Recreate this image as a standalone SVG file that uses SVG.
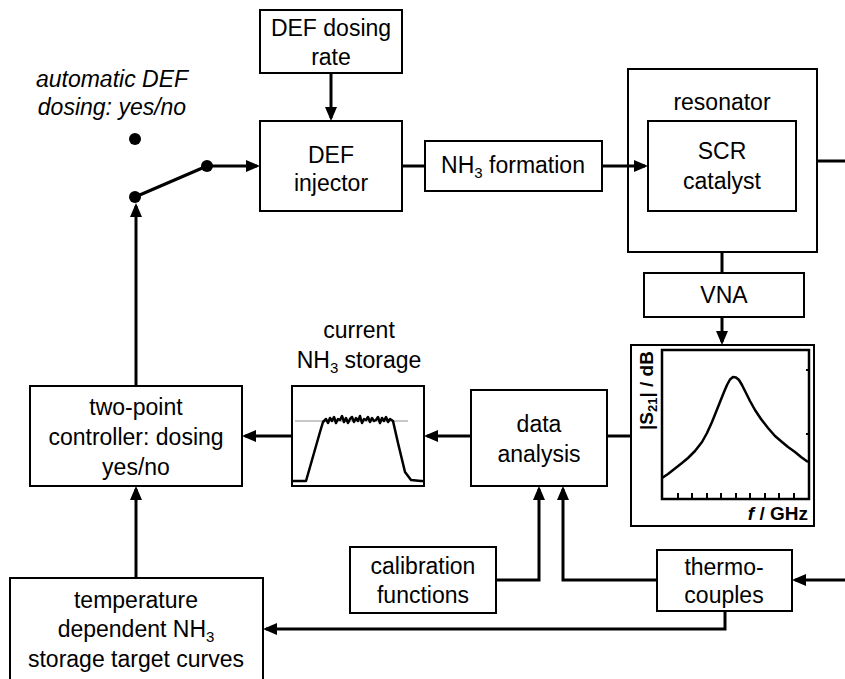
<svg xmlns="http://www.w3.org/2000/svg" width="845" height="679" viewBox="0 0 845 679">
<defs>
<marker id="ah" markerUnits="userSpaceOnUse" markerWidth="14" markerHeight="14" viewBox="0 0 14 14" refX="11" refY="7" orient="auto">
<path d="M0,1 L14,7 L0,13 Z" fill="#000"/>
</marker>
<style>
.box{fill:#fff;stroke:#000;stroke-width:2}
.t{font-family:"Liberation Sans",Arial,sans-serif;font-size:23px;fill:#000;text-anchor:middle}
.it{font-style:italic}
.c{fill:none;stroke:#000;stroke-width:3}
.a{marker-end:url(#ah)}
.sub{font-size:15px}
.ax{font-family:"Liberation Sans",Arial,sans-serif;font-size:19px;font-weight:bold;fill:#000}
</style>
</defs>
<rect width="845" height="679" fill="#fff"/>

<g id="switch">
<text class="t it" x="112" y="87">automatic DEF</text>
<text class="t it" x="112" y="115">dosing: yes/no</text>
<circle cx="135" cy="139" r="6" fill="#000"/>
<circle cx="207" cy="166" r="6" fill="#000"/>
<circle cx="135" cy="197" r="6" fill="#000"/>
</g>

<g id="def-dosing-rate">
<rect class="box" x="260" y="10" width="142" height="63"/>
<text class="t" x="331" y="36">DEF dosing</text>
<text class="t" x="331" y="65">rate</text>
</g>

<g id="def-injector">
<rect class="box" x="260" y="121" width="142" height="90"/>
<text class="t" x="331" y="163">DEF</text>
<text class="t" x="331" y="191">injector</text>
</g>

<g id="nh3-formation">
<rect class="box" x="425" y="141" width="177" height="50"/>
<text class="t" x="513" y="173">NH<tspan class="sub" dy="5">3</tspan><tspan dy="-5"> formation</tspan></text>
</g>

<g id="resonator">
<rect class="box" x="628" y="69" width="189" height="183"/>
<text class="t" x="722" y="110">resonator</text>
</g>

<g id="scr-catalyst">
<rect class="box" x="648" y="121" width="148" height="90"/>
<text class="t" x="722" y="159">SCR</text>
<text class="t" x="722" y="189">catalyst</text>
</g>

<g id="vna">
<rect class="box" x="644" y="273" width="160" height="44"/>
<text class="t" x="724" y="303">VNA</text>
</g>

<g id="s21-plot">
<rect class="box" x="631" y="345" width="183" height="181"/>
<rect x="662" y="350" width="147" height="149" fill="none" stroke="#000" stroke-width="2.5"/>
<g stroke="#000" stroke-width="2">
<line x1="678" y1="499" x2="678" y2="493"/>
<line x1="692" y1="499" x2="692" y2="493"/>
<line x1="707" y1="499" x2="707" y2="493"/>
<line x1="721" y1="499" x2="721" y2="493"/>
<line x1="736" y1="499" x2="736" y2="493"/>
<line x1="750" y1="499" x2="750" y2="493"/>
<line x1="765" y1="499" x2="765" y2="493"/>
<line x1="779" y1="499" x2="779" y2="493"/>
<line x1="794" y1="499" x2="794" y2="493"/>
<line x1="809" y1="370" x2="806" y2="370"/>
<line x1="809" y1="434" x2="806" y2="434"/>
</g>
<polyline fill="none" stroke="#000" stroke-width="2.5" stroke-linejoin="round" points="662,478 668,474 675,468.5 682,463 688,458 695,451 702,442 707,433 712,422 716,412 720,402 724,392 727,385 730,379.5 733,377 736,377.5 739,380 742,385 745,391 750,401 755,410 761,419 768,428 775,436 782,442 788,447 795,452 801,457 808,462"/>
<text class="ax" transform="translate(653,430) rotate(-90)" font-size="20">|S<tspan font-size="13" dy="4">21</tspan><tspan dy="-4">| / dB</tspan></text>
<text class="ax" x="808" y="520" text-anchor="end" font-size="20"><tspan font-style="italic">f</tspan> / GHz</text>
</g>

<g id="data-analysis">
<rect class="box" x="471" y="390" width="136" height="96"/>
<text class="t" x="539" y="432">data</text>
<text class="t" x="539" y="462">analysis</text>
</g>

<g id="current-storage">
<text class="t" x="359" y="338">current</text>
<text class="t" x="359" y="368">NH<tspan class="sub" dy="5">3</tspan><tspan dy="-5"> storage</tspan></text>
<rect class="box" x="292" y="386" width="132" height="100"/>
<line x1="295" y1="421" x2="408" y2="421" stroke="#c8c8c8" stroke-width="2"/>
<polyline fill="none" stroke="#000" stroke-width="2.5" stroke-linejoin="round" points="293,481 306,481 320,432 323,422 326,419 328,423 330,418 332,421 334,417 336,423 338,419 340,420 342,416 344,422 346,418 348,423 350,419 352,417 354,422 356,418 358,421 360,416 362,423 364,419 366,420 368,417 370,422 372,418 374,421 376,420 378,417 380,423 382,418 384,421 386,417 388,422 390,419 393,421 398,443 405,472 411,480 421,481 424,481"/>
</g>

<g id="two-point-controller">
<rect class="box" x="30" y="386" width="212" height="100"/>
<text class="t" x="136" y="415">two-point</text>
<text class="t" x="136" y="445">controller: dosing</text>
<text class="t" x="136" y="475">yes/no</text>
</g>

<g id="calibration-functions">
<rect class="box" x="350" y="547" width="146" height="66"/>
<text class="t" x="423" y="574">calibration</text>
<text class="t" x="423" y="603">functions</text>
</g>

<g id="thermocouples">
<rect class="box" x="657" y="550" width="135" height="61"/>
<text class="t" x="724" y="575">thermo-</text>
<text class="t" x="724" y="603">couples</text>
</g>

<g id="target-curves">
<rect class="box" x="10" y="578" width="253" height="110"/>
<text class="t" x="136" y="608">temperature</text>
<text class="t" x="136" y="637">dependent NH<tspan class="sub" dy="5">3</tspan></text>
<text class="t" x="136" y="667">storage target curves</text>
</g>

<g id="connectors">
<line class="c a" x1="331" y1="73" x2="331" y2="118"/>
<line class="c a" x1="207" y1="166" x2="257" y2="166"/>
<line class="c" x1="135" y1="197" x2="207" y2="166"/>
<line class="c a" x1="136" y1="386" x2="136" y2="206"/>
<line class="c" x1="402" y1="166" x2="425" y2="166"/>
<line class="c a" x1="602" y1="166" x2="645" y2="166"/>
<line class="c" x1="817" y1="161" x2="845" y2="161"/>
<line class="c" x1="722" y1="252" x2="722" y2="273"/>
<line class="c a" x1="722" y1="317" x2="722" y2="342"/>
<line class="c" x1="631" y1="436" x2="607" y2="436"/>
<line class="c a" x1="471" y1="436" x2="427" y2="436"/>
<line class="c a" x1="292" y1="436" x2="245" y2="436"/>
<line class="c a" x1="136" y1="578" x2="136" y2="489"/>
<polyline class="c a" points="496,580 539,580 539,489"/>
<polyline class="c a" points="657,580 563,580 563,489"/>
<line class="c a" x1="845" y1="580" x2="795" y2="580"/>
<polyline class="c a" points="725,611 725,629 266,629"/>
</g>
</svg>
